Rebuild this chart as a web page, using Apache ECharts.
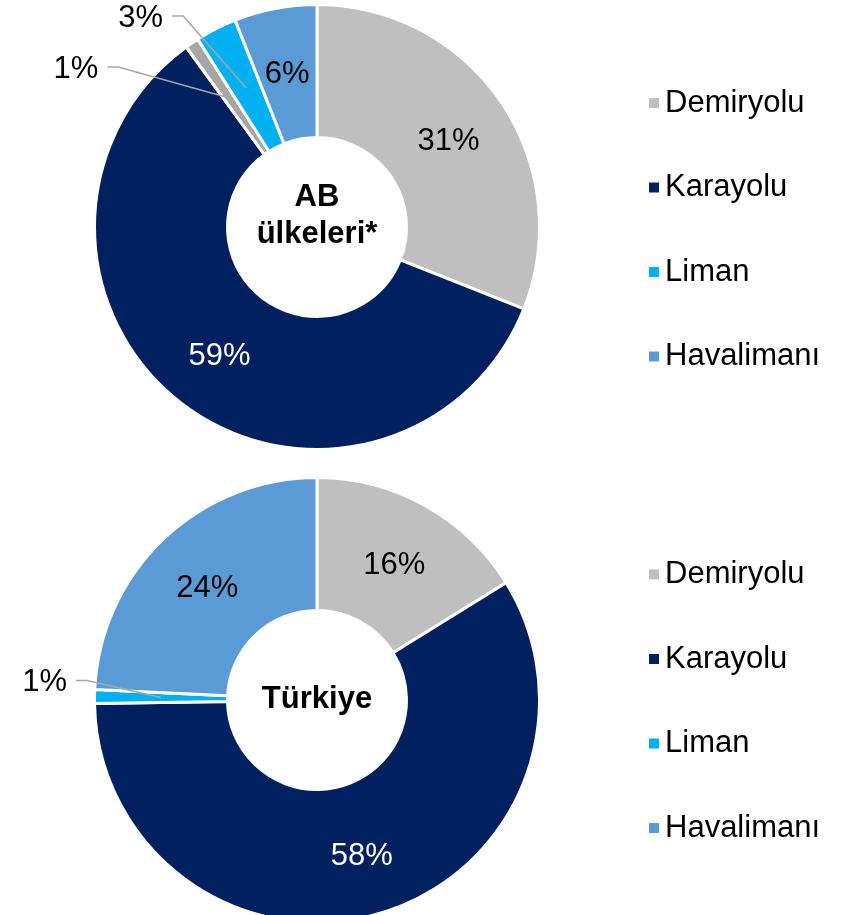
<!DOCTYPE html>
<html>
<head>
<meta charset="utf-8">
<script src="https://cdn.jsdelivr.net/npm/echarts@6/dist/echarts.min.js"></script>
<style>
  html, body { margin: 0; padding: 0; background: #fff; }
  #chart { width: 845px; height: 915px; }
</style>
</head>
<body>
<div id="chart"></div>
<script>
// legend categories
const legendNames = ['Demiryolu', 'Karayolu', 'Liman', 'Havalimanı']

// AB ülkeleri* (top donut), % share
const abNames = ['Demiryolu', 'Karayolu', 'Diğer', 'Liman', 'Havalimanı']
const abValues = [31, 59, 1, 3, 6]

// Türkiye (bottom donut), % share
const trNames = ['Demiryolu', 'Karayolu', 'Liman', 'Havalimanı']
const trValues = [16, 58, 1, 24]

const centerTitles = ['AB\nülkeleri*', 'Türkiye']

const colors = {
  'Demiryolu': '#BFBFBF',
  'Karayolu': '#002060',
  'Diğer': '#A6A6A6',
  'Liman': '#00B0F0',
  'Havalimanı': '#5B9BD5'
}
const FONT = 'Arial, "Liberation Sans", sans-serif'
const R_OUT = 222.5
const R_IN = 89.5
const R_MID = (R_OUT + R_IN) / 2

// small slices get an outside label with a leader line: [bend dx, bend dy] from the ring middle
const leaderTop = { 'Diğer': [-111, -31], 'Liman': [-63, -72] }
const leaderBottom = { 'Liman': [-74, -17] }

const labelBase = { formatter: '{c}%', fontSize: 31, fontFamily: FONT }

// donut with the inside labels
function pieSeries(center, names, values, leaders) {
  return {
    type: 'pie',
    center: center,
    radius: [R_IN, R_OUT],
    startAngle: 90,
    clockwise: true,
    avoidLabelOverlap: false,
    silent: true,
    animation: false,
    z: 2,
    itemStyle: { borderColor: '#fff', borderWidth: 3 },
    label: Object.assign({ show: true, position: 'inside' }, labelBase),
    labelLine: { show: false },
    labelLayout: { dy: 4 },
    data: names.map((n, i) => ({
      name: n,
      value: values[i],
      itemStyle: { color: colors[n] },
      label: { show: leaders[n] == null, color: n === 'Karayolu' ? '#fff' : '#000' }
    }))
  }
}

function leaderLayout(leaders, names) {
  return function (params) {
    const pts = params.labelLinePoints
    const off = leaders[names[params.dataIndex]]
    if (!pts || !off) return {}
    const p0 = pts[0], p1 = pts[1]
    const dx = p1[0] - p0[0], dy = p1[1] - p0[1]
    const len = Math.sqrt(dx * dx + dy * dy) || 1
    const start = [p0[0] - dx / len * (R_OUT - R_MID), p0[1] - dy / len * (R_OUT - R_MID)]
    const bend = [start[0] + off[0], start[1] + off[1]]
    const end = [bend[0] - 11, bend[1]]
    return {
      x: end[0] - 9,
      y: end[1] + 2,
      align: 'right',
      verticalAlign: 'middle',
      labelLinePoints: [start, bend, end]
    }
  }
}

// transparent overlay: outside labels + leader lines drawn above the donut
function leaderSeries(center, names, values, leaders) {
  return {
    type: 'pie',
    center: center,
    radius: [R_IN, R_OUT],
    startAngle: 90,
    clockwise: true,
    avoidLabelOverlap: false,
    silent: true,
    animation: false,
    z: 5,
    itemStyle: { color: 'rgba(0,0,0,0)', borderWidth: 0 },
    label: Object.assign({ show: false, position: 'outside', color: '#000' }, labelBase),
    labelLine: {
      show: false,
      length: 20,
      length2: 10,
      lineStyle: { color: '#A6A6A6', width: 1.5 }
    },
    labelLayout: leaderLayout(leaders, names),
    data: names.map((n, i) => ({
      name: n,
      value: values[i],
      label: { show: leaders[n] != null },
      labelLine: { show: leaders[n] != null }
    }))
  }
}

function legendAt(top) {
  return {
    orient: 'vertical',
    left: 642,
    top: top,
    data: legendNames,
    icon: 'rect',
    itemWidth: 12,
    itemHeight: 12,
    itemGap: 53.5,
    selectedMode: false,
    textStyle: { fontSize: 31, lineHeight: 31, fontFamily: FONT, color: '#000' }
  }
}

const chart = echarts.init(document.getElementById('chart'))
chart.setOption({
  backgroundColor: '#fff',
  animation: false,
  legend: [legendAt(82.5), legendAt(554)],
  graphic: [
    {
      type: 'text', x: 317, y: 216, silent: true,
      style: { text: centerTitles[0], fontSize: 31, fontWeight: 'bold', fontFamily: FONT, lineHeight: 37, fill: '#000', align: 'center', verticalAlign: 'middle' }
    },
    {
      type: 'text', x: 317, y: 699, silent: true,
      style: { text: centerTitles[1], fontSize: 31, fontWeight: 'bold', fontFamily: FONT, fill: '#000', align: 'center', verticalAlign: 'middle' }
    }
  ],
  series: [
    pieSeries([317, 227], abNames, abValues, leaderTop),
    pieSeries([317, 700], trNames, trValues, leaderBottom),
    leaderSeries([317, 227], abNames, abValues, leaderTop),
    leaderSeries([317, 700], trNames, trValues, leaderBottom)
  ]
})
</script>
</body>
</html>
